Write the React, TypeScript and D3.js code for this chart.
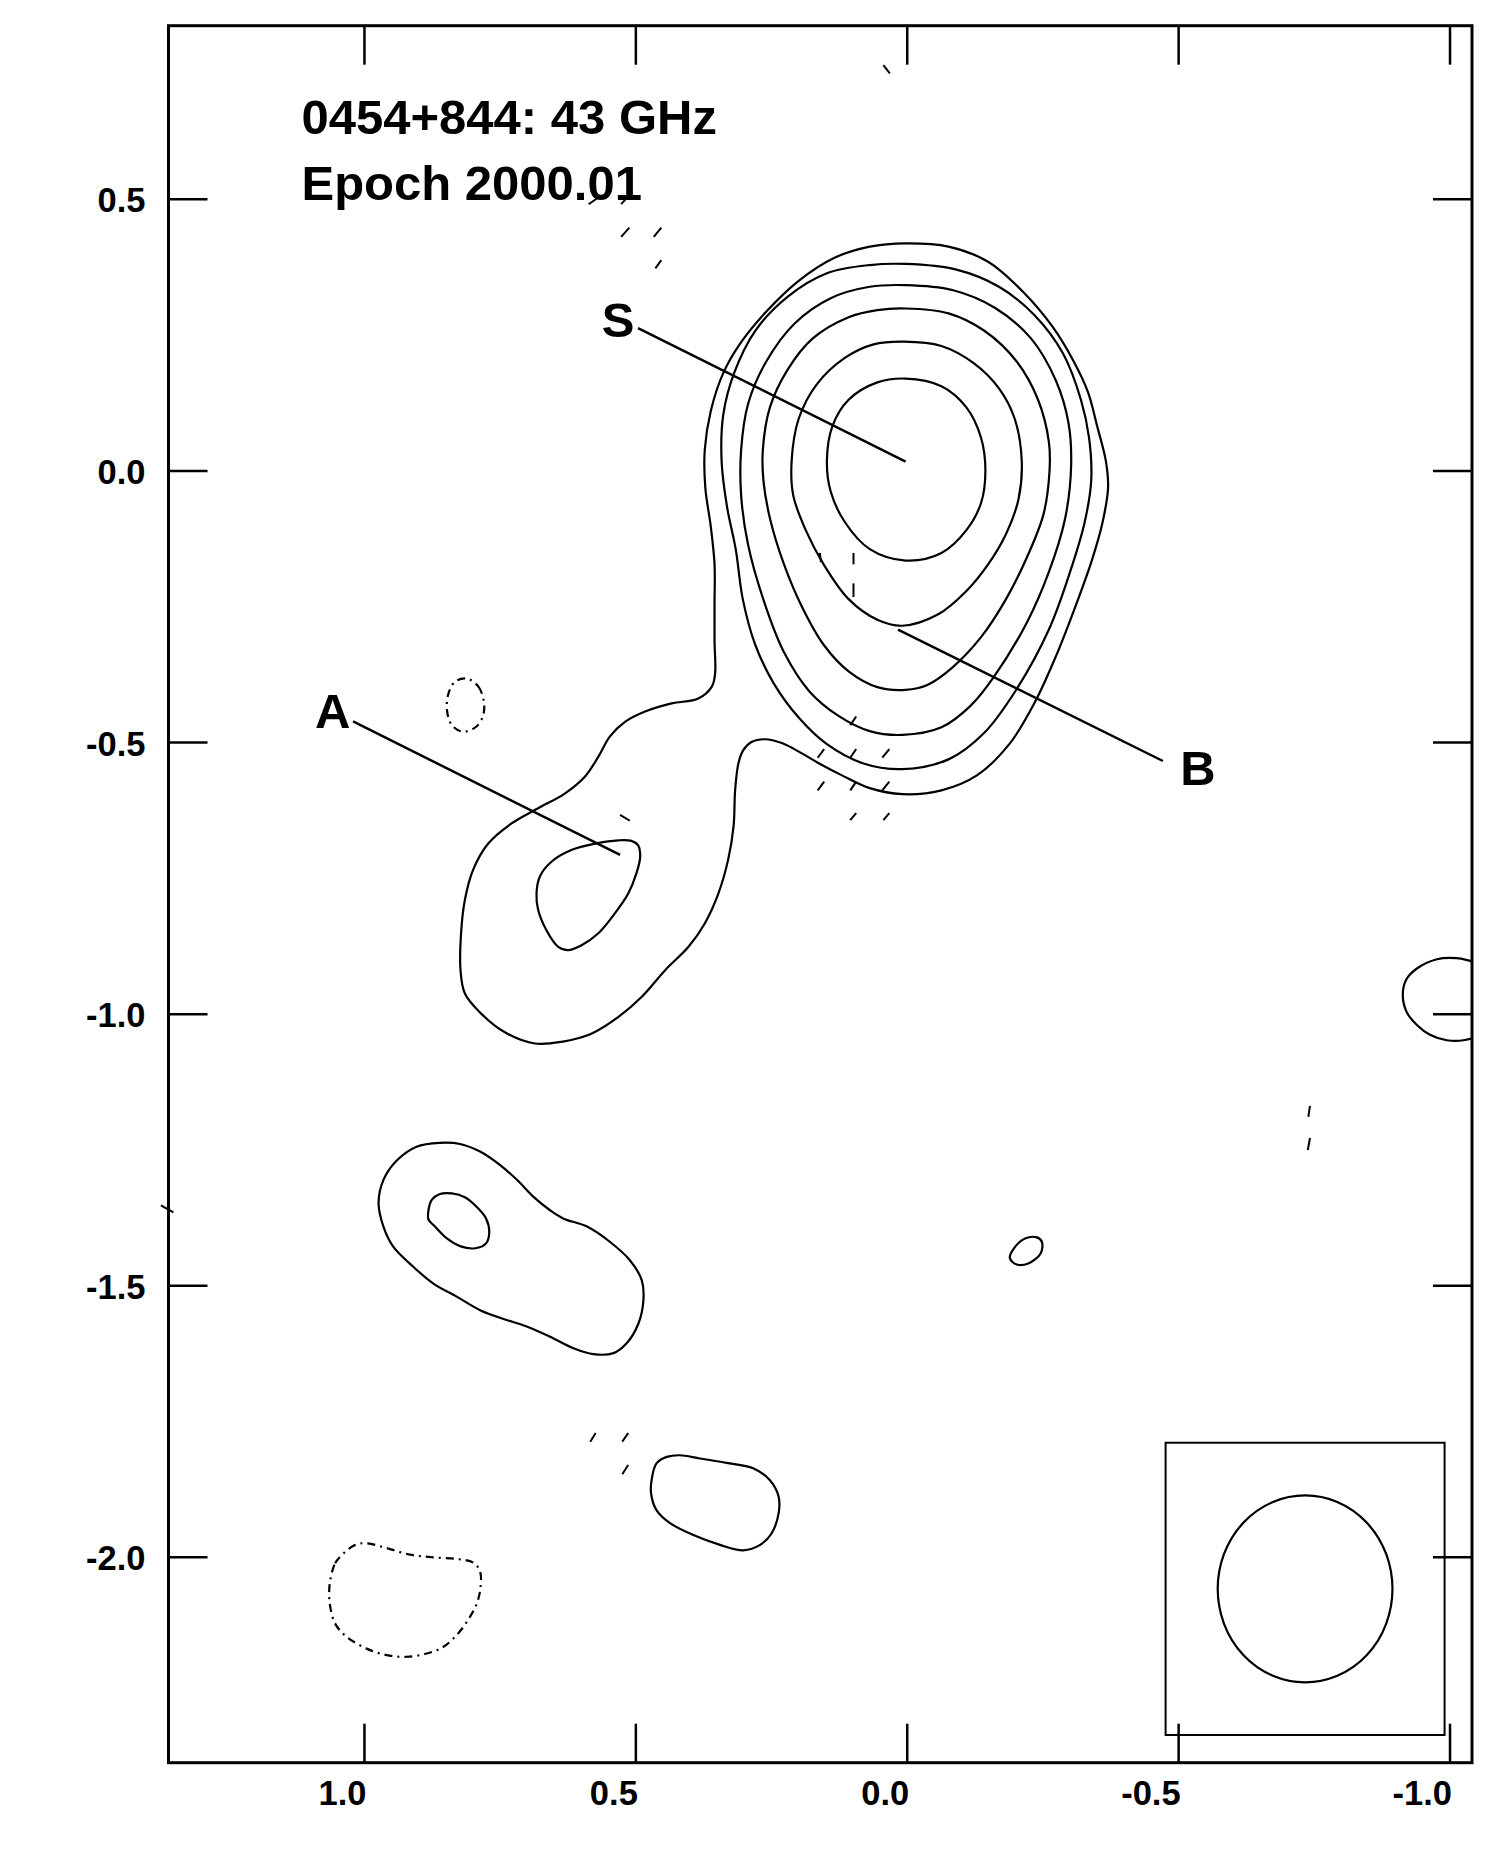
import * as d3 from 'd3';

type Pt = [number, number];

// axis ticks (mas)
const xTicks = [1.0, 0.5, 0.0, -0.5, -1.0];
const yTicks = [0.5, 0.0, -0.5, -1.0, -1.5, -2.0];
const xTickLabels = ['1.0', '0.5', '0.0', '-0.5', '-1.0'];
const yTickLabels = ['0.5', '0.0', '-0.5', '-1.0', '-1.5', '-2.0'];

const titleLines = ['0454+844: 43 GHz', 'Epoch 2000.01'];

// positive contours (relative RA, relative Dec in mas)
const contourOuter: Pt[] = [
  [0.003, 0.419], [-0.076, 0.413], [-0.149, 0.385], [-0.215, 0.328], [-0.268, 0.265], [-0.307, 0.201],
  [-0.333, 0.145], [-0.350, 0.082], [-0.366, 0.018], [-0.370, -0.031], [-0.360, -0.094], [-0.340, -0.165],
  [-0.307, -0.257], [-0.274, -0.341], [-0.235, -0.426], [-0.188, -0.503], [-0.129, -0.560], [-0.063, -0.588],
  [0.009, -0.595], [0.069, -0.584], [0.121, -0.560], [0.163, -0.538], [0.194, -0.520], [0.231, -0.501],
  [0.262, -0.494], [0.287, -0.499], [0.302, -0.514], [0.311, -0.538], [0.317, -0.587], [0.320, -0.655],
  [0.330, -0.716], [0.348, -0.778], [0.373, -0.833], [0.403, -0.876], [0.446, -0.919], [0.489, -0.968],
  [0.532, -1.005], [0.582, -1.036], [0.637, -1.051], [0.686, -1.054], [0.742, -1.033], [0.785, -0.999],
  [0.815, -0.962], [0.823, -0.919], [0.822, -0.851], [0.815, -0.790], [0.800, -0.735], [0.772, -0.686],
  [0.729, -0.649], [0.680, -0.621], [0.631, -0.594], [0.594, -0.563], [0.569, -0.526], [0.548, -0.489],
  [0.520, -0.462], [0.483, -0.443], [0.434, -0.428], [0.385, -0.419], [0.360, -0.397], [0.354, -0.373],
  [0.355, -0.313], [0.355, -0.243], [0.355, -0.172], [0.362, -0.102], [0.372, -0.031], [0.373, 0.039],
  [0.362, 0.110], [0.339, 0.180], [0.306, 0.237], [0.260, 0.293], [0.200, 0.350], [0.135, 0.392],
  [0.069, 0.413],
];

const contour2: Pt[] = [
  [0.003, 0.381], [-0.089, 0.371], [-0.169, 0.339], [-0.235, 0.286], [-0.287, 0.216], [-0.320, 0.131],
  [-0.335, 0.061], [-0.339, -0.017], [-0.327, -0.094], [-0.300, -0.186], [-0.261, -0.292], [-0.202, -0.401],
  [-0.142, -0.482], [-0.076, -0.531], [0.009, -0.549], [0.082, -0.538], [0.148, -0.503], [0.200, -0.454],
  [0.246, -0.391], [0.280, -0.320], [0.303, -0.236], [0.316, -0.144], [0.332, -0.066], [0.342, 0.018],
  [0.339, 0.103], [0.319, 0.180], [0.280, 0.258], [0.220, 0.321], [0.148, 0.364], [0.069, 0.379],
];

const contour3: Pt[] = [
  [0.003, 0.342], [-0.083, 0.333], [-0.162, 0.300], [-0.228, 0.244], [-0.274, 0.166], [-0.297, 0.089],
  [-0.302, 0.011], [-0.291, -0.087], [-0.261, -0.186], [-0.221, -0.278], [-0.159, -0.380], [-0.116, -0.433],
  [-0.063, -0.472], [0.009, -0.486], [0.069, -0.479], [0.128, -0.450], [0.181, -0.405], [0.227, -0.334],
  [0.263, -0.243], [0.293, -0.137], [0.306, -0.045], [0.306, 0.039], [0.293, 0.124], [0.260, 0.201],
  [0.207, 0.272], [0.141, 0.318], [0.069, 0.339],
];

const contour4: Pt[] = [
  [0.003, 0.299], [-0.076, 0.290], [-0.142, 0.258], [-0.202, 0.201], [-0.241, 0.131], [-0.261, 0.053],
  [-0.262, -0.003], [-0.251, -0.080], [-0.221, -0.158], [-0.182, -0.236], [-0.136, -0.306], [-0.083, -0.362],
  [-0.037, -0.394], [0.003, -0.403], [0.055, -0.398], [0.108, -0.369], [0.154, -0.320], [0.194, -0.250],
  [0.227, -0.172], [0.253, -0.087], [0.265, -0.017], [0.266, 0.039], [0.253, 0.117], [0.220, 0.187],
  [0.174, 0.244], [0.108, 0.283], [0.055, 0.296],
];

const contour5: Pt[] = [
  [0.006, 0.238], [-0.063, 0.230], [-0.123, 0.198], [-0.169, 0.152], [-0.198, 0.096], [-0.211, 0.018],
  [-0.205, -0.052], [-0.182, -0.116], [-0.149, -0.172], [-0.109, -0.221], [-0.057, -0.264], [0.009, -0.285],
  [0.055, -0.274], [0.108, -0.236], [0.154, -0.172], [0.187, -0.109], [0.210, -0.045], [0.213, 0.018],
  [0.200, 0.096], [0.167, 0.159], [0.115, 0.208], [0.062, 0.233],
];

const contour6: Pt[] = [
  [0.003, 0.170], [-0.063, 0.156], [-0.109, 0.117], [-0.136, 0.061], [-0.144, 0.0], [-0.136, -0.059],
  [-0.109, -0.109], [-0.063, -0.151], [0.003, -0.165], [0.069, -0.144], [0.115, -0.094], [0.141, -0.038],
  [0.148, 0.018], [0.138, 0.082], [0.108, 0.131], [0.055, 0.163],
];

const compAInner: Pt[] = [
  [0.575, -0.686], [0.532, -0.680], [0.508, -0.681], [0.496, -0.689], [0.492, -0.710], [0.499, -0.741],
  [0.514, -0.778], [0.539, -0.815], [0.569, -0.851], [0.600, -0.873], [0.625, -0.882], [0.643, -0.876],
  [0.665, -0.845], [0.680, -0.808], [0.683, -0.778], [0.677, -0.747], [0.656, -0.720], [0.619, -0.698],
];

const blobOuter: Pt[] = [
  [0.974, -1.348], [0.965, -1.305], [0.940, -1.269], [0.904, -1.244], [0.861, -1.237], [0.824, -1.239],
  [0.787, -1.253], [0.750, -1.278], [0.719, -1.305], [0.689, -1.336], [0.658, -1.361], [0.634, -1.376],
  [0.590, -1.391], [0.548, -1.419], [0.511, -1.453], [0.489, -1.490], [0.486, -1.526], [0.495, -1.569],
  [0.517, -1.606], [0.541, -1.624], [0.578, -1.626], [0.615, -1.615], [0.658, -1.594], [0.701, -1.575],
  [0.738, -1.563], [0.787, -1.545], [0.830, -1.520], [0.873, -1.496], [0.910, -1.465], [0.947, -1.428],
  [0.965, -1.391],
];

const blobInner: Pt[] = [
  [0.882, -1.361], [0.876, -1.342], [0.861, -1.331], [0.839, -1.330], [0.815, -1.337], [0.793, -1.355],
  [0.776, -1.376], [0.770, -1.401], [0.776, -1.422], [0.796, -1.431], [0.824, -1.427], [0.848, -1.413],
  [0.870, -1.391], [0.882, -1.378],
];

const southBlob: Pt[] = [
  [0.471, -1.858], [0.462, -1.827], [0.443, -1.815], [0.419, -1.812], [0.382, -1.818], [0.333, -1.826],
  [0.284, -1.836], [0.253, -1.858], [0.237, -1.888], [0.237, -1.919], [0.250, -1.956], [0.271, -1.977],
  [0.302, -1.987], [0.345, -1.977], [0.394, -1.959], [0.437, -1.937], [0.462, -1.913], [0.472, -1.882],
];

const smallBlob: Pt[] = [
  [-0.189, -1.449], [-0.199, -1.428], [-0.217, -1.413], [-0.239, -1.411], [-0.248, -1.419],
  [-0.246, -1.440], [-0.223, -1.459], [-0.202, -1.461],
];

const edgeBlob: Pt[] = [
  [-1.038, -0.902], [-1.012, -0.897], [-0.976, -0.899], [-0.939, -0.916], [-0.919, -0.937], [-0.913, -0.965],
  [-0.920, -0.996], [-0.939, -1.020], [-0.963, -1.038], [-0.994, -1.048], [-1.025, -1.048], [-1.060, -1.036],
  [-1.090, -1.000], [-1.095, -0.950], [-1.070, -0.910],
];

// negative contours
const negRing: Pt[] = [
  [1.063, -2.042], [1.054, -2.011], [1.039, -1.993], [1.017, -1.977], [0.996, -1.974], [0.959, -1.983],
  [0.916, -1.995], [0.873, -2.000], [0.830, -2.003], [0.799, -2.010], [0.787, -2.026], [0.786, -2.054],
  [0.793, -2.085], [0.809, -2.115], [0.830, -2.143], [0.855, -2.165], [0.885, -2.177], [0.922, -2.183],
  [0.959, -2.180], [0.996, -2.168], [1.033, -2.146], [1.054, -2.122], [1.063, -2.091], [1.065, -2.067],
];

const negSmall: Pt[] = [
  [0.812, -0.382], [0.790, -0.397], [0.780, -0.425], [0.781, -0.449], [0.793, -0.470], [0.818, -0.480],
  [0.839, -0.468], [0.848, -0.440], [0.845, -0.409], [0.833, -0.388],
];

const negDashes: [Pt, Pt][] = [
  [[0.044, 0.747], [0.032, 0.732]],
  [[0.587, 0.491], [0.571, 0.502]],
  [[0.527, 0.491], [0.519, 0.500]],
  [[0.527, 0.431], [0.512, 0.448]],
  [[0.467, 0.431], [0.453, 0.448]],
  [[0.464, 0.373], [0.453, 0.388]],
  [[0.161, -0.151], [0.159, -0.168]],
  [[0.099, -0.151], [0.099, -0.172]],
  [[0.099, -0.207], [0.099, -0.232]],
  [[0.105, -0.468], [0.094, -0.452]],
  [[0.165, -0.528], [0.153, -0.512]],
  [[0.105, -0.528], [0.094, -0.512]],
  [[0.046, -0.528], [0.033, -0.512]],
  [[0.165, -0.588], [0.153, -0.572]],
  [[0.105, -0.588], [0.094, -0.572]],
  [[0.046, -0.588], [0.033, -0.572]],
  [[0.105, -0.643], [0.094, -0.630]],
  [[0.044, -0.643], [0.033, -0.630]],
  [[0.529, -0.633], [0.511, -0.644]],
  [[0.584, -1.787], [0.574, -1.771]],
  [[0.525, -1.787], [0.514, -1.771]],
  [[0.525, -1.847], [0.514, -1.830]],
  [[-0.739, -1.189], [-0.742, -1.169]],
  [[-0.738, -1.250], [-0.742, -1.228]],
  [[1.375, -1.352], [1.352, -1.365]],
];

// component labels: name, label anchor, leader start, leader end
const componentLabels = [
  { name: 'S', at: [0.563, 0.247] as Pt, from: [0.496, 0.263] as Pt, to: [0.003, 0.017] as Pt },
  { name: 'A', at: [1.091, -0.474] as Pt, from: [1.021, -0.461] as Pt, to: [0.529, -0.707] as Pt },
  { name: 'B', at: [-0.503, -0.578] as Pt, from: [0.017, -0.292] as Pt, to: [-0.471, -0.534] as Pt },
];

// restoring beam and its box
const beamBox = { x0: -0.476, x1: -0.990, y0: -1.789, y1: -2.327 };
const beam = { cx: -0.733, cy: -2.058, rx: 0.161, ry: 0.172 };

const W = 1500;
const H = 1869;
const frame = { left: 168.5, right: 1472, top: 25.7, bottom: 1762.7 };
const FONT = "'Liberation Sans', Arial, Helvetica, sans-serif";

export default function App() {
  const x = d3.scaleLinear().domain([1.361, -1.0405]).range([frame.left, frame.right]);
  const y = d3.scaleLinear().domain([0.8196, -2.378]).range([frame.top, frame.bottom]);

  const closed = d3
    .line<Pt>()
    .x((d) => x(d[0]))
    .y((d) => y(d[1]))
    .curve(d3.curveCatmullRomClosed.alpha(0.5));

  const solid = [contourOuter, contour2, contour3, contour4, contour5, contour6, compAInner,
    blobOuter, blobInner, southBlob, smallBlob];

  const tickLen = 39;

  return (
    <div style={{ position: 'absolute', left: 0, top: 0, width: W, height: H, background: '#fff' }}>
      <svg width={W} height={H} style={{ display: 'block' }}>
        <defs>
          <clipPath id="plotClip">
            <rect x={frame.left} y={frame.top} width={frame.right - frame.left} height={frame.bottom - frame.top} />
          </clipPath>
        </defs>

        {/* contours */}
        <g fill="none" stroke="#000" strokeWidth={2.2} strokeLinejoin="round">
          {solid.map((c, i) => (
            <path key={i} d={closed(c) || ''} />
          ))}
          <path d={closed(edgeBlob) || ''} clipPath="url(#plotClip)" />
          <path d={closed(negRing) || ''} strokeDasharray="8 5 2 5" strokeWidth={2.2} />
          <path d={closed(negSmall) || ''} strokeDasharray="8 5 2 5" strokeWidth={2.2} />
          {negDashes.map((s, i) => (
            <line key={i} x1={x(s[0][0])} y1={y(s[0][1])} x2={x(s[1][0])} y2={y(s[1][1])} strokeWidth={2} />
          ))}
        </g>

        {/* beam */}
        <rect
          x={x(beamBox.x0)}
          y={y(beamBox.y0)}
          width={x(beamBox.x1) - x(beamBox.x0)}
          height={y(beamBox.y1) - y(beamBox.y0)}
          fill="none"
          stroke="#000"
          strokeWidth={2}
        />
        <ellipse
          cx={x(beam.cx)}
          cy={y(beam.cy)}
          rx={x(0) - x(beam.rx)}
          ry={y(-beam.ry) - y(0)}
          fill="none"
          stroke="#000"
          strokeWidth={2.2}
        />

        {/* component labels */}
        {componentLabels.map((c) => (
          <g key={c.name}>
            <line x1={x(c.from[0])} y1={y(c.from[1])} x2={x(c.to[0])} y2={y(c.to[1])} stroke="#000" strokeWidth={2.5} />
            <text x={x(c.at[0])} y={y(c.at[1])} fontFamily={FONT} fontWeight="bold" fontSize={49}>
              {c.name}
            </text>
          </g>
        ))}

        {/* title */}
        {titleLines.map((t, i) => (
          <text key={i} x={x(1.116)} y={y(i === 0 ? 0.621 : 0.499)} fontFamily={FONT} fontWeight="bold" fontSize={49}>
            {t}
          </text>
        ))}

        {/* frame and ticks */}
        <rect
          x={frame.left}
          y={frame.top}
          width={frame.right - frame.left}
          height={frame.bottom - frame.top}
          fill="none"
          stroke="#000"
          strokeWidth={3}
        />
        <g stroke="#000" strokeWidth={2.5}>
          {xTicks.map((t) => (
            <g key={'x' + t}>
              <line x1={x(t)} x2={x(t)} y1={frame.bottom} y2={frame.bottom - tickLen} />
              <line x1={x(t)} x2={x(t)} y1={frame.top} y2={frame.top + tickLen} />
            </g>
          ))}
          {yTicks.map((t) => (
            <g key={'y' + t}>
              <line x1={frame.left} x2={frame.left + tickLen} y1={y(t)} y2={y(t)} />
              <line x1={frame.right} x2={frame.right - tickLen} y1={y(t)} y2={y(t)} />
            </g>
          ))}
        </g>
        <g fontFamily={FONT} fontWeight="bold" fontSize={34.5} fill="#000">
          {xTicks.map((t, i) => (
            <text key={'xl' + t} x={x(t) + 2} y={frame.bottom + 42} textAnchor="end">
              {xTickLabels[i]}
            </text>
          ))}
          {yTicks.map((t, i) => (
            <text key={'yl' + t} x={frame.left - 23} y={y(t) + 13} textAnchor="end">
              {yTickLabels[i]}
            </text>
          ))}
        </g>
      </svg>
    </div>
  );
}
